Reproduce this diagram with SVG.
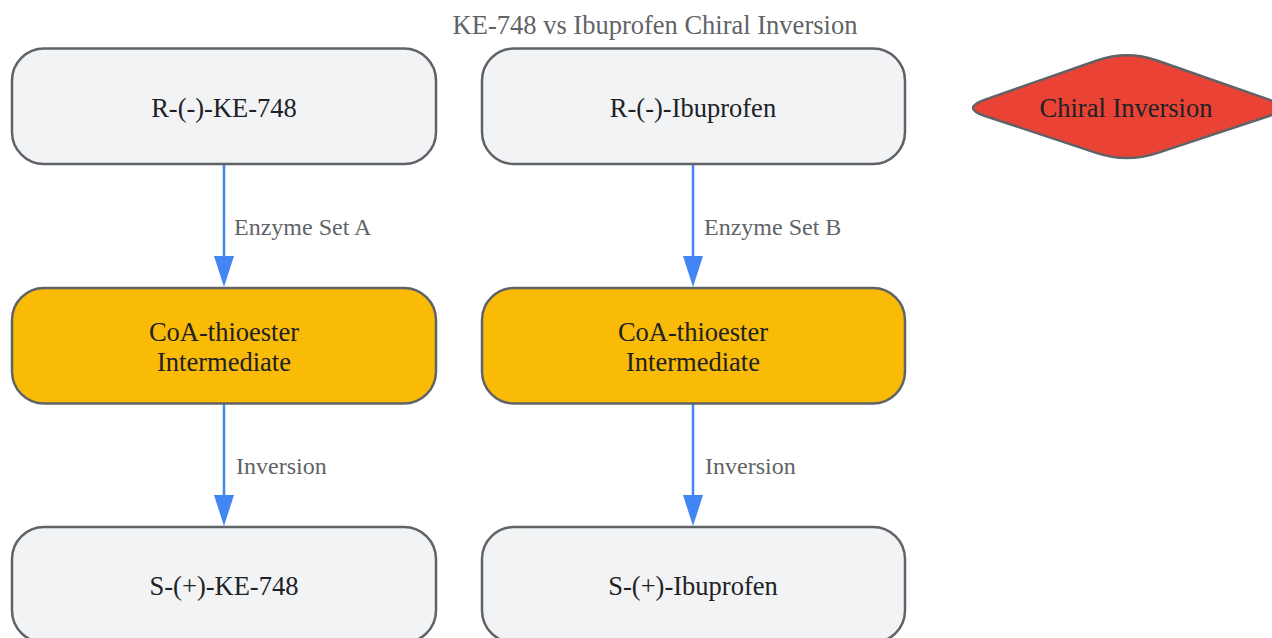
<svg xmlns="http://www.w3.org/2000/svg" width="1272" height="638" viewBox="0 0 1272 638">
<defs>
<style>
.box{fill:#f1f3f4;stroke:#5f6368;stroke-width:2.5}
.mid{fill:#f9bb05;stroke:#5f6368;stroke-width:2.5}
.t{font-family:"Liberation Serif",serif;font-size:26.5px;fill:#202124;text-anchor:middle;dominant-baseline:central}
.lbl{font-family:"Liberation Serif",serif;font-size:24px;fill:#5f6368;dominant-baseline:central}
.edge{stroke:#4285f4;stroke-width:2.5;fill:none}
</style>
</defs>
<rect width="1272" height="638" fill="#ffffff"/>
<text x="655" y="25" class="t" style="fill:#5f6368">KE-748 vs Ibuprofen Chiral Inversion</text>
<g id="connectors">
<line class="edge" x1="224" y1="165" x2="224" y2="256"/>
<path d="M214,256 L234,256 L224,287 Z" fill="#4285f4"/>
<line class="edge" x1="693" y1="165" x2="693" y2="256"/>
<path d="M683,256 L703,256 L693,287 Z" fill="#4285f4"/>
<line class="edge" x1="224" y1="404" x2="224" y2="495"/>
<path d="M214,495 L234,495 L224,526 Z" fill="#4285f4"/>
<line class="edge" x1="693" y1="404" x2="693" y2="495"/>
<path d="M683,495 L703,495 L693,526 Z" fill="#4285f4"/>
<text class="lbl" x="234" y="227">Enzyme Set A</text>
<text class="lbl" x="704" y="227">Enzyme Set B</text>
<text class="lbl" x="236" y="466">Inversion</text>
<text class="lbl" x="705" y="466">Inversion</text>
</g>
<g id="r_ke748">
<rect class="box" x="12" y="48.5" width="424" height="115.5" rx="32"/>
<text class="t" x="224" y="108">R-(-)-KE-748</text>
</g>
<g id="r_ibuprofen">
<rect class="box" x="482" y="48.5" width="423" height="115.5" rx="32"/>
<text class="t" x="693" y="108">R-(-)-Ibuprofen</text>
</g>
<g id="chiral_inversion">
<path d="M985,99.6 L1097,60.5 Q1127,50 1157,60.5 L1269,99.6 Q1293,108 1269,116 L1157,153.1 Q1127,163 1097,153.1 L985,116 Q961,108 985,99.6 Z" fill="#ea4335" stroke="#5f6368" stroke-width="2.5"/>
<text class="t" x="1126" y="108">Chiral Inversion</text>
</g>
<g id="coa_a">
<rect class="mid" x="12" y="288" width="424" height="115.5" rx="32"/>
<text class="t" x="224" y="332">CoA-thioester</text>
<text class="t" x="224" y="362">Intermediate</text>
</g>
<g id="coa_b">
<rect class="mid" x="482" y="288" width="423" height="115.5" rx="32"/>
<text class="t" x="693" y="332">CoA-thioester</text>
<text class="t" x="693" y="362">Intermediate</text>
</g>
<g id="s_ke748">
<rect class="box" x="12" y="527" width="424" height="115.5" rx="32"/>
<text class="t" x="224" y="586">S-(+)-KE-748</text>
</g>
<g id="s_ibuprofen">
<rect class="box" x="482" y="527" width="423" height="115.5" rx="32"/>
<text class="t" x="693" y="586">S-(+)-Ibuprofen</text>
</g>
</svg>
